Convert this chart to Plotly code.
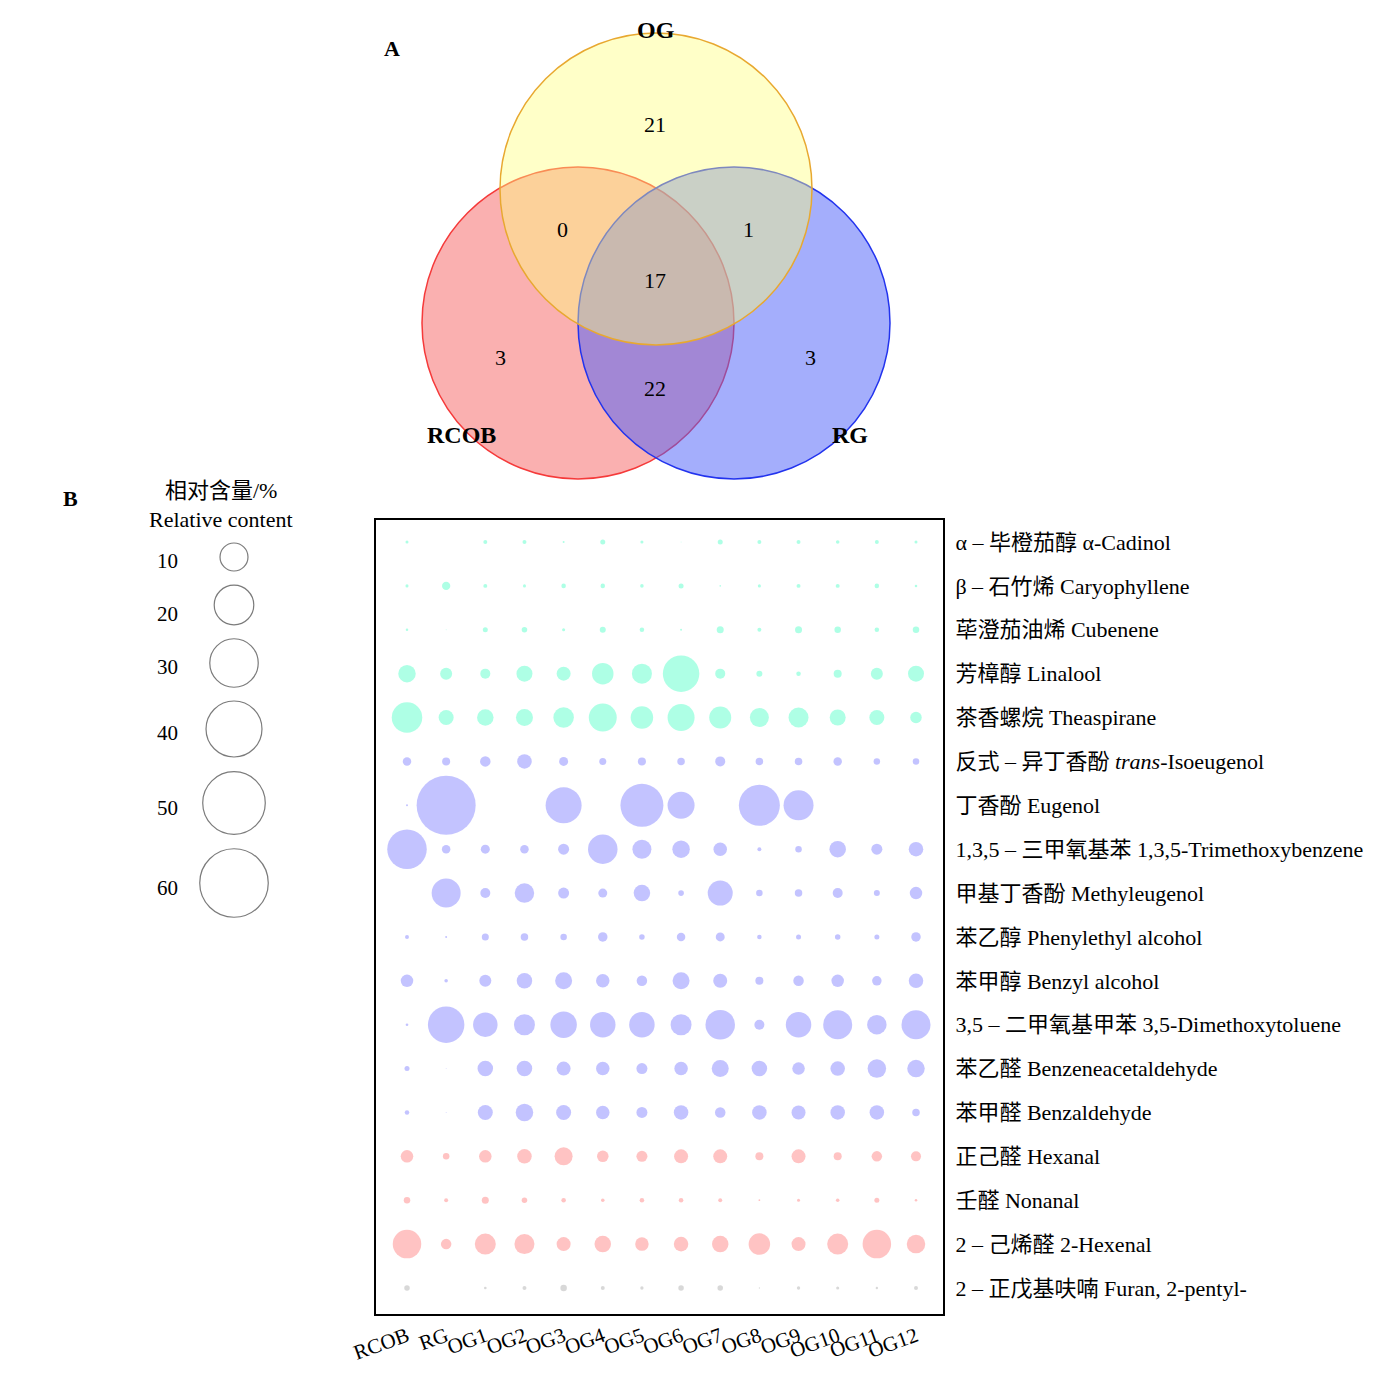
import plotly.graph_objects as go

# ---------------- data ----------------
samples = ["RCOB", "RG", "OG1", "OG2", "OG3", "OG4", "OG5", "OG6",
           "OG7", "OG8", "OG9", "OG10", "OG11", "OG12"]

compounds = [
    "α – 毕橙茄醇 α-Cadinol",
    "β – 石竹烯 Caryophyllene",
    "荜澄茄油烯 Cubenene",
    "芳樟醇 Linalool",
    "茶香螺烷 Theaspirane",
    "反式 – 异丁香酚 <i>trans</i>-Isoeugenol",
    "丁香酚 Eugenol",
    "1,3,5 – 三甲氧基苯 1,3,5-Trimethoxybenzene",
    "甲基丁香酚 Methyleugenol",
    "苯乙醇 Phenylethyl alcohol",
    "苯甲醇 Benzyl alcohol",
    "3,5 – 二甲氧基甲苯 3,5-Dimethoxytoluene",
    "苯乙醛 Benzeneacetaldehyde",
    "苯甲醛 Benzaldehyde",
    "正己醛 Hexanal",
    "壬醛 Nonanal",
    "2 – 己烯醛 2-Hexenal",
    "2 – 正戊基呋喃 Furan, 2-pentyl-",
]

compound_class = ["terpene"] * 5 + ["aromatic"] * 9 + ["aldehyde"] * 3 + ["other"]

# relative content (%) per compound (rows) and sample (columns)
cadinol        = [0.12, 0, 0.2, 0.2, 0.05, 0.32, 0.12, 0.01, 0.32, 0.2, 0.2, 0.16, 0.2, 0.12]
caryophyllene  = [0.12, 0.88, 0.2, 0.12, 0.26, 0.26, 0.16, 0.32, 0.03, 0.12, 0.2, 0.2, 0.26, 0.08]
cubenene       = [0.08, 0.01, 0.32, 0.39, 0.12, 0.46, 0.26, 0.05, 0.63, 0.2, 0.63, 0.54, 0.26, 0.54]
linalool       = [3.91, 1.84, 1.28, 3.27, 2.5, 5.9, 5.11, 17.0, 1.28, 0.46, 0.26, 0.82, 1.84, 3.27]
theaspirane    = [11.88, 2.87, 3.48, 3.69, 5.37, 10.0, 6.47, 9.31, 6.18, 4.61, 5.11, 3.27, 2.87, 1.69]
isoeugenol     = [0.92, 0.82, 1.41, 2.69, 1.03, 0.63, 0.82, 0.72, 1.28, 0.72, 0.72, 0.92, 0.54, 0.54]
eugenol        = [0.05, 44.5, 0, 0, 16.55, 0, 23.6, 9.31, 0, 21.47, 11.49, 0, 0, 0]
trimethoxyb    = [19.93, 0.92, 1.03, 0.92, 1.55, 11.11, 4.61, 3.91, 2.33, 0.2, 0.54, 3.48, 1.55, 2.69]
methyleugenol  = [0, 10.74, 1.28, 4.86, 1.55, 1.03, 3.48, 0.41, 7.98, 0.54, 0.72, 1.28, 0.46, 2.0]
phenylethanol  = [0.2, 0.05, 0.63, 0.72, 0.54, 1.15, 0.39, 0.92, 1.03, 0.26, 0.32, 0.39, 0.32, 1.15]
benzylalcohol  = [2.0, 0.16, 1.84, 3.07, 3.69, 2.33, 1.41, 3.69, 2.5, 0.82, 1.41, 2.0, 1.15, 2.69]
dimethoxytol   = [0.09, 17.0, 7.67, 5.63, 8.97, 8.3, 8.3, 5.63, 11.11, 1.28, 8.3, 10.74, 4.86, 10.74]
benzeneacetald = [0.32, 0.01, 3.07, 3.07, 2.5, 2.33, 1.55, 2.33, 3.69, 3.07, 2.0, 2.69, 4.37, 3.91]
benzaldehyde   = [0.26, 0.01, 2.87, 3.91, 2.87, 2.33, 1.55, 2.69, 1.41, 2.69, 2.5, 2.69, 2.69, 0.72]
hexanal        = [2.0, 0.54, 2.0, 2.69, 4.14, 1.69, 1.55, 2.5, 2.5, 0.82, 2.5, 0.82, 1.41, 1.28]
nonanal        = [0.54, 0.2, 0.63, 0.39, 0.26, 0.16, 0.26, 0.26, 0.2, 0.04, 0.12, 0.16, 0.32, 0.08]
hexenal        = [10.37, 1.41, 5.63, 5.11, 2.5, 3.48, 2.33, 2.69, 3.48, 5.9, 2.5, 5.63, 10.37, 4.37]
pentylfuran    = [0.39, 0, 0.09, 0.2, 0.54, 0.2, 0.14, 0.39, 0.39, 0.02, 0.14, 0.12, 0.07, 0.2]

content = [cadinol, caryophyllene, cubenene, linalool, theaspirane, isoeugenol,
           eugenol, trimethoxyb, methyleugenol, phenylethanol, benzylalcohol,
           dimethoxytol, benzeneacetald, benzaldehyde, hexanal, nonanal,
           hexenal, pentylfuran]

legend_values = [10, 20, 30, 40, 50, 60]

venn_sets = ["RCOB", "RG", "OG"]
venn_regions = ["OG only", "RCOB∩OG", "OG∩RG", "RCOB∩OG∩RG", "RCOB only", "RCOB∩RG", "RG only"]
venn_counts = [21, 0, 1, 17, 3, 22, 3]

# ---------------- styles ----------------
W = H = 1386
SERIF = "Liberation Serif, Times New Roman, Noto Sans CJK SC, serif"
class_colors = {"terpene": "#8CFFDA", "aromatic": "#AAAAFF",
                "aldehyde": "#FFAAAA", "other": "#C8C8C8"}
SIZEREF = 2 / 78.3  # area mode: diameter = 8.85*sqrt(value)

fig = go.Figure()

# bubbles
for cls in ["terpene", "aromatic", "aldehyde", "other"]:
    xs, ys, ss = [], [], []
    for i, row in enumerate(content):
        if compound_class[i] != cls:
            continue
        for j, v in enumerate(row):
            if v > 0:
                xs.append(j)
                ys.append(i)
                ss.append(v)
    fig.add_trace(go.Scatter(
        x=xs, y=ys, mode="markers", xaxis="x", yaxis="y",
        marker=dict(size=ss, sizemode="area", sizeref=SIZEREF, sizemin=0,
                    color=class_colors[cls], line=dict(width=0)),
        showlegend=False, hoverinfo="skip"))

# size legend (pixel overlay axes)
leg_circle_y = [557, 605, 663, 729, 803, 883]
leg_label_y = [561, 614, 667, 733, 808, 888]
fig.add_trace(go.Scatter(
    x=[234] * len(legend_values), y=leg_circle_y, mode="markers",
    xaxis="x2", yaxis="y2",
    marker=dict(size=legend_values, sizemode="area", sizeref=SIZEREF,
                color="rgba(0,0,0,0)", line=dict(color="#444444", width=1.2)),
    showlegend=False, hoverinfo="skip"))

annotations = []
for v, yy in zip(legend_values, leg_label_y):
    annotations.append(dict(x=167, y=yy, xref="x2", yref="y2", text=str(v),
                            showarrow=False, font=dict(family=SERIF, size=21, color="black")))
annotations.append(dict(x=221, y=490, xref="x2", yref="y2", text="相对含量/%",
                        showarrow=False, font=dict(family=SERIF, size=22, color="black")))
annotations.append(dict(x=221, y=519, xref="x2", yref="y2", text="Relative content",
                        showarrow=False, font=dict(family=SERIF, size=22, color="black")))
annotations.append(dict(x=392, y=48, xref="x2", yref="y2", text="<b>A</b>",
                        showarrow=False, font=dict(family=SERIF, size=22, color="black")))
annotations.append(dict(x=70, y=498, xref="x2", yref="y2", text="<b>B</b>",
                        showarrow=False, font=dict(family=SERIF, size=22, color="black")))

# Venn diagram
R = 156
venn_geom = {"RCOB": (578, 323), "RG": (734, 323), "OG": (656, 189)}
venn_fill = {"RCOB": "rgba(245,97,97,0.5)", "RG": "rgba(73,93,249,0.5)",
             "OG": "rgba(255,255,125,0.42)"}
venn_line = {"RCOB": "#F53A3A", "RG": "#2233EE", "OG": "#E8A830"}
shapes = []
for s in venn_sets:
    cx, cy = venn_geom[s]
    shapes.append(dict(type="circle", xref="x2", yref="y2",
                       x0=cx - R, x1=cx + R, y0=cy - R, y1=cy + R,
                       fillcolor=venn_fill[s], line=dict(color=venn_line[s], width=1.5),
                       layer="above"))

region_pos = {"OG only": (655, 124), "RCOB∩OG": (562, 229), "OG∩RG": (748, 229),
              "RCOB∩OG∩RG": (655, 280), "RCOB only": (500, 357),
              "RCOB∩RG": (655, 388), "RG only": (810, 357)}
for reg, cnt in zip(venn_regions, venn_counts):
    x, y = region_pos[reg]
    annotations.append(dict(x=x, y=y, xref="x2", yref="y2", text=str(cnt),
                            showarrow=False, font=dict(family=SERIF, size=22, color="black")))
set_label_pos = {"OG": (656, 30), "RCOB": (461, 435), "RG": (850, 435)}
for s in venn_sets:
    x, y = set_label_pos[s]
    annotations.append(dict(x=x, y=y, xref="x2", yref="y2", text="<b>%s</b>" % s,
                            showarrow=False, font=dict(family=SERIF, size=24, color="black")))

# ---------------- layout ----------------
x_left, x_right, y_top, y_bot = 376, 943, 520, 1314
col0, colN = 407, 916
row0, rowN = 542, 1288
dx = (colN - col0) / (len(samples) - 1)
dy = (rowN - row0) / (len(compounds) - 1)
xr = [-(col0 - x_left) / dx, (len(samples) - 1) + (x_right - colN) / dx]
yr = [(len(compounds) - 1) + (y_bot - rowN) / dy, -(row0 - y_top) / dy]

fig.update_layout(
    width=W, height=H, margin=dict(l=0, r=0, t=0, b=0, autoexpand=False),
    paper_bgcolor="white", plot_bgcolor="rgba(0,0,0,0)",
    xaxis=dict(domain=[x_left / W, x_right / W], range=xr, automargin=False,
               tickvals=list(range(len(samples))), ticktext=samples,
               tickangle=-20, showgrid=False, zeroline=False,
               showline=True, mirror=True, linecolor="black", linewidth=2,
               ticks="", tickfont=dict(family=SERIF, size=21, color="black")),
    yaxis=dict(domain=[1 - y_bot / H, 1 - y_top / H], range=yr, automargin=False,
               tickvals=list(range(len(compounds))), ticktext=compounds,
               side="right", showgrid=False, zeroline=False,
               showline=True, mirror=True, linecolor="black", linewidth=2,
               ticks="", ticklabelstandoff=6,
               tickfont=dict(family=SERIF, size=22, color="black")),
    xaxis2=dict(domain=[0, 1], range=[0, W], visible=False, anchor="y2", automargin=False),
    yaxis2=dict(domain=[0, 1], range=[H, 0], visible=False, anchor="x2", automargin=False),
    shapes=shapes, annotations=annotations,
)

fig.write_html("out.html", config={"displayModeBar": False},
               post_script="document.body.style.margin='0';document.body.style.overflow='hidden';")
